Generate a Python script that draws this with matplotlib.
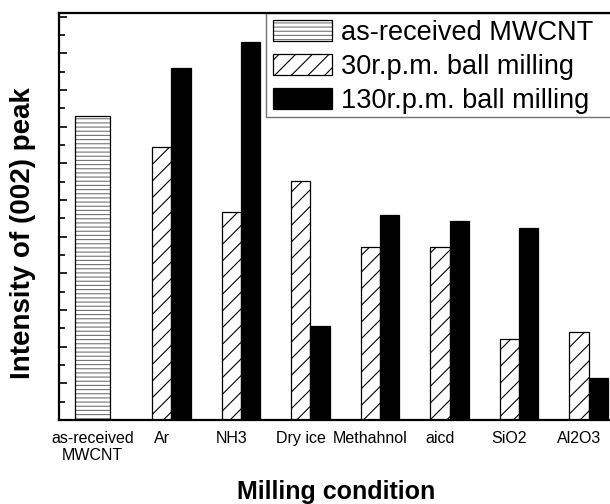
import matplotlib
matplotlib.use("Agg")
import matplotlib.pyplot as plt
import numpy as np
from matplotlib.patches import Patch, Rectangle

plt.rcParams['font.family'] = ['Liberation Sans', 'DejaVu Sans']
plt.rcParams['hatch.linewidth'] = 0.8

# data (in units of the minor y tick)
categories = ['as-received\nMWCNT', 'Ar', 'NH3', 'Dry ice', 'Methahnol', 'aicd', 'SiO2', 'Al2O3']
as_received = [16.6]
rpm30 = [14.9, 11.35, 13.05, 9.44, 9.45, 4.4, 4.8]
rpm130 = [19.2, 20.6, 5.13, 11.18, 10.87, 10.49, 2.27]
legend_labels = ['as-received MWCNT', '30r.p.m. ball milling', '130r.p.m. ball milling']

fig = plt.figure(figsize=(6.1, 5.04), dpi=100)
ax = fig.add_axes([59/610, 84/504, 553/610, 407/504])

x = np.arange(len(categories))
w = 0.275

# as-received bar: grey hatch lines with a black outline
ax.bar(x[:1], as_received, 0.494, color='white', edgecolor='0.45', hatch='----', linewidth=0)
ax.bar(x[:1], as_received, 0.494, color='none', edgecolor='black', linewidth=0.9)
ax.bar(x[1:], rpm30, w, color='white', edgecolor='black', hatch='//', linewidth=0.9)
ax.bar(x[1:] + w, rpm130, w, color='black', edgecolor='black', linewidth=0.9)

ax.set_xlim(-0.48, 7.475)
ax.set_ylim(0, 22.2)
ax.set_xticks(x)
ax.set_xticklabels(categories, fontsize=11.5, linespacing=1.15)
ax.tick_params(axis='x', length=0, pad=8)
ax.set_yticks(np.arange(0, 23, 2))
ax.set_yticks(np.arange(1, 23, 2), minor=True)
ax.set_yticklabels([])
ax.tick_params(axis='y', which='major', direction='in', length=6, width=1.2)
ax.tick_params(axis='y', which='minor', direction='in', length=4, width=1.2)
for s in ax.spines.values():
    s.set_linewidth(1.6)
    s.set_zorder(6)

fig.text(23/610, 1 - 233/504, 'Intensity of (002) peak', rotation=90,
         ha='center', va='center', fontsize=20, fontweight='bold')
fig.text(336/610, 5/504, 'Milling condition', ha='center', va='baseline',
         fontsize=18, fontweight='bold')

h_as = (Patch(facecolor='white', edgecolor='0.45', hatch='----', linewidth=0),
        Patch(facecolor='none', edgecolor='black', linewidth=0.9))
h30 = Patch(facecolor='white', edgecolor='black', hatch='//', linewidth=0.9)
h130 = Patch(facecolor='black', edgecolor='black', linewidth=0.9)
leg = ax.legend([h_as, h30, h130], legend_labels, loc='upper left',
                bbox_to_anchor=(266/610, 1 - 13/504), bbox_transform=fig.transFigure,
                fontsize=19.5, handlelength=2.2, handleheight=0.81, handletextpad=0.33,
                labelspacing=0.30, borderpad=0.24, borderaxespad=0, frameon=False)
leg.set_zorder(5)

# legend box runs off the right edge of the picture
ax.add_patch(Rectangle((266/610, 1 - 117/504), 0.6, 104/504, transform=fig.transFigure,
                       facecolor='white', edgecolor='0.45', linewidth=1.0, zorder=4,
                       clip_on=False))

fig.savefig('out.png', dpi=100)
